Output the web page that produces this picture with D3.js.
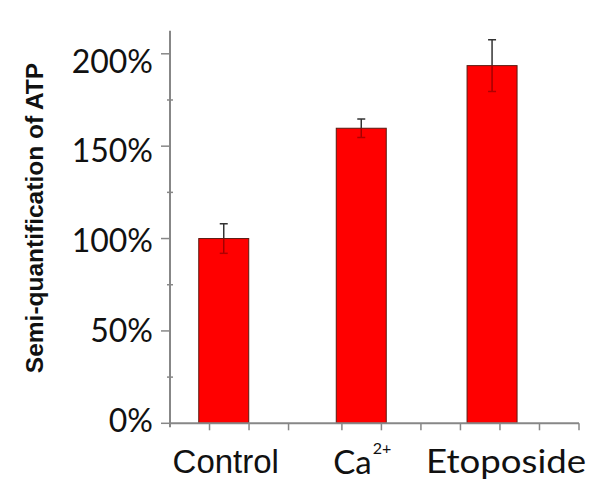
<!DOCTYPE html>
<html>
<head>
<meta charset="utf-8">
<script src="https://cdn.jsdelivr.net/npm/d3@7"></script>
<style>
  html, body { margin: 0; padding: 0; background: #fff; }
  svg { display: block; }
</style>
</head>
<body>
<svg id="chart" width="600" height="498"></svg>
<script>
// ---- data ----
const categories = ["Control", "Ca", "Etoposide"];
const categorySuperscripts = ["", "2+", ""];
const values = [100, 159.7, 193.6];          // % ATP
const errors = [8, 5, 14];                   // ± error
const categoryPos = [1.36, 4.84, 8.15];      // position along x axis (axis units)
const xTickPos = [1, 2, 3, 4.35, 5.35, 6.35, 7.35, 8.35, 9.35, 10.35];
const yTickValues = [0, 50, 100, 150, 200];
const yTickLabels = ["0%", "50%", "100%", "150%", "200%"];
const yMinorTickValues = [25, 75, 125, 175];
const yTitle = "Semi-quantification of ATP";

// ---- layout ----
const svg = d3.select("#chart");
const axisColor = "#878787";
const x = d3.scaleLinear().domain([0, 10.35]).range([170, 579]);
const y = d3.scaleLinear().domain([0, 212.5]).range([423.3, 30.7]);
const yLabelBase = d3.scaleLinear().domain([0, 200]).range([431.5, 72.7]);
const barW = x(1.265) - x(0);

// bars
svg.append("g").selectAll("rect").data(values).join("rect")
  .attr("x", (d, i) => x(categoryPos[i]) - barW / 2)
  .attr("y", d => y(d))
  .attr("width", barW)
  .attr("height", d => y(0) - y(d))
  .attr("fill", "#ff0000")
  .attr("stroke", "#5a1a10")
  .attr("stroke-width", 1);

// error bars
const eb = svg.append("g");
values.forEach((v, i) => {
  const cx = x(categoryPos[i]);
  const hi = y(v + errors[i]), lo = y(v - errors[i]), mid = y(v);
  eb.append("line").attr("x1", cx).attr("x2", cx).attr("y1", hi).attr("y2", mid)
    .attr("stroke", "#333").attr("stroke-width", 1.5);
  eb.append("line").attr("x1", cx - 4).attr("x2", cx + 4).attr("y1", hi).attr("y2", hi)
    .attr("stroke", "#333").attr("stroke-width", 1.5);
  eb.append("line").attr("x1", cx).attr("x2", cx).attr("y1", mid).attr("y2", lo)
    .attr("stroke", "#a30000").attr("stroke-width", 1.5);
  eb.append("line").attr("x1", cx - 4).attr("x2", cx + 4).attr("y1", lo).attr("y2", lo)
    .attr("stroke", "#b00000").attr("stroke-width", 1.5);
});

// y axis
const ya = svg.append("g");
ya.append("line").attr("x1", x(0)).attr("x2", x(0)).attr("y1", y(212.5)).attr("y2", y(0) + 4)
  .attr("stroke", axisColor).attr("stroke-width", 2);
ya.selectAll(".maj").data(yTickValues).join("line").attr("class", "maj")
  .attr("x1", x(0) - 9).attr("x2", x(0)).attr("y1", d => y(d)).attr("y2", d => y(d))
  .attr("stroke", axisColor).attr("stroke-width", 1.5);
ya.selectAll(".min").data(yMinorTickValues).join("line").attr("class", "min")
  .attr("x1", x(0) - 3).attr("x2", x(0) + 3).attr("y1", d => y(d)).attr("y2", d => y(d))
  .attr("stroke", axisColor).attr("stroke-width", 1.5);
ya.selectAll("text").data(yTickValues).join("text")
  .attr("x", 153).attr("y", d => yLabelBase(d))
  .attr("text-anchor", "end")
  .attr("font-family", "Lato, 'Open Sans', sans-serif")
  .attr("font-size", 32)
  .attr("fill", "#111")
  .text((d, i) => yTickLabels[i]);

// x axis
const xa = svg.append("g");
xa.append("line").attr("x1", x(0)).attr("x2", x(10.35)).attr("y1", y(0)).attr("y2", y(0))
  .attr("stroke", axisColor).attr("stroke-width", 2);
xa.selectAll("line.t").data(xTickPos).join("line").attr("class", "t")
  .attr("x1", d => x(d)).attr("x2", d => x(d)).attr("y1", y(0)).attr("y2", y(0) + 7)
  .attr("stroke", axisColor).attr("stroke-width", 1.5);

// category labels
const labelBase = 473;
// Control
svg.append("text")
  .attr("x", x(categoryPos[0]) + 2).attr("y", labelBase)
  .attr("text-anchor", "middle")
  .attr("font-family", "'Liberation Sans', Arial, sans-serif")
  .attr("font-size", 33).attr("fill", "#111")
  .text(categories[0]);
// Ca2+
const caT = svg.append("text")
  .attr("x", x(categoryPos[1]) - 28).attr("y", labelBase + 1)
  .attr("font-family", "Lato, 'Open Sans', sans-serif")
  .attr("font-size", 33).attr("fill", "#111");
caT.append("tspan").text(categories[1]);
caT.append("tspan").attr("dx", 1).attr("dy", -20).attr("font-size", 16).text(categorySuperscripts[1]);
// Etoposide
svg.append("text")
  .attr("x", x(categoryPos[2]) + 14).attr("y", labelBase)
  .attr("text-anchor", "middle")
  .attr("font-family", "Lato, 'Open Sans', sans-serif")
  .attr("font-size", 32).attr("fill", "#111")
  .attr("textLength", 160).attr("lengthAdjust", "spacingAndGlyphs")
  .text(categories[2]);

// y title
svg.append("text")
  .attr("transform", "translate(43,218) rotate(-90)")
  .attr("text-anchor", "middle")
  .attr("font-family", "'Liberation Sans', Arial, sans-serif")
  .attr("font-weight", "bold")
  .attr("font-size", 24.5).attr("fill", "#111")
  .text(yTitle);
</script>
</body>
</html>
